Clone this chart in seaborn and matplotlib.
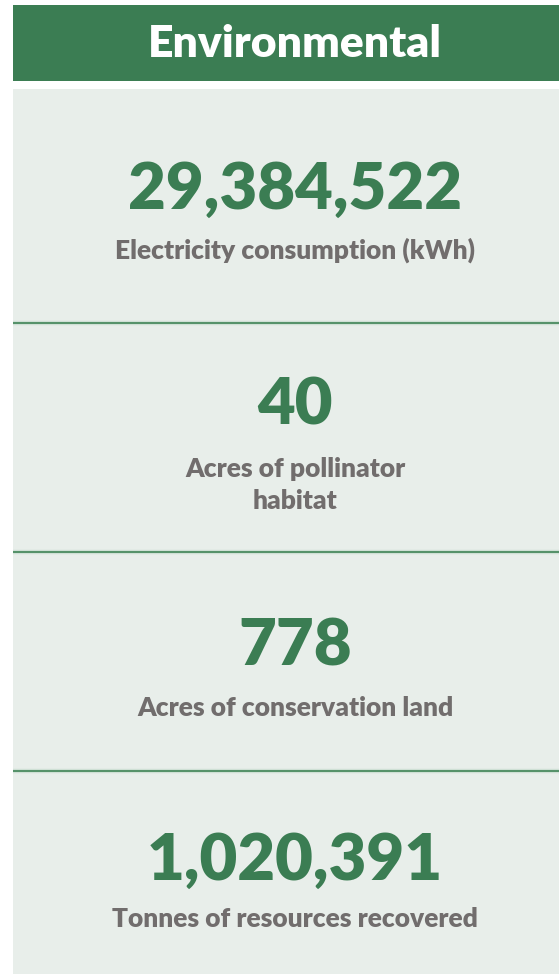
import matplotlib
matplotlib.use("Agg")
import matplotlib.pyplot as plt
import seaborn as sns

title = "Environmental"
values = ["29,384,522", "40", "778", "1,020,391"]
labels = ["Electricity consumption (kWh)", "Acres of pollinator\nhabitat",
          "Acres of conservation land", "Tonnes of resources recovered"]

GREEN = "#3b7d53"
PANEL = "#e8eeea"
GREY = "#716d6d"

sns.set_theme(style="white")
plt.rcParams["font.family"] = ["Lato", "DejaVu Sans"]

W, H = 559, 974
fig = plt.figure(figsize=(W / 100, H / 100), dpi=100)
ax = fig.add_axes([0, 0, 1, 1])
ax.set_xlim(0, W)
ax.set_ylim(H, 0)
ax.axis("off")

# header bar + panel
ax.add_patch(plt.Rectangle((13, 5), W - 13, 76, color=GREEN, lw=0))
ax.add_patch(plt.Rectangle((13, 89), W - 13, H - 89, color=PANEL, lw=0))
ax.text(295, 44, title, color="white", fontsize=32, fontweight="heavy",
        ha="center", va="center")

# section layout
num_y = [190, 406, 647, 861]
lab_y = [250, 485, 708, 919]
dividers = [323, 552, 771]

for y in dividers:
    ax.plot([13, W], [y, y], color="#cfe0d5", lw=3.2, solid_capstyle="butt")
    ax.plot([13, W], [y, y], color="#4a8a5f", lw=1.3, solid_capstyle="butt")

for v, l, ny, ly in zip(values, labels, num_y, lab_y):
    ax.text(295, ny, v, color=GREEN, fontsize=47, fontweight="heavy",
            ha="center", va="center")
    ax.text(295, ly, l, color=GREY, fontsize=19, fontweight="heavy",
            ha="center", va="center", linespacing=1.42)

fig.savefig("out.png", dpi=100, facecolor="white")
